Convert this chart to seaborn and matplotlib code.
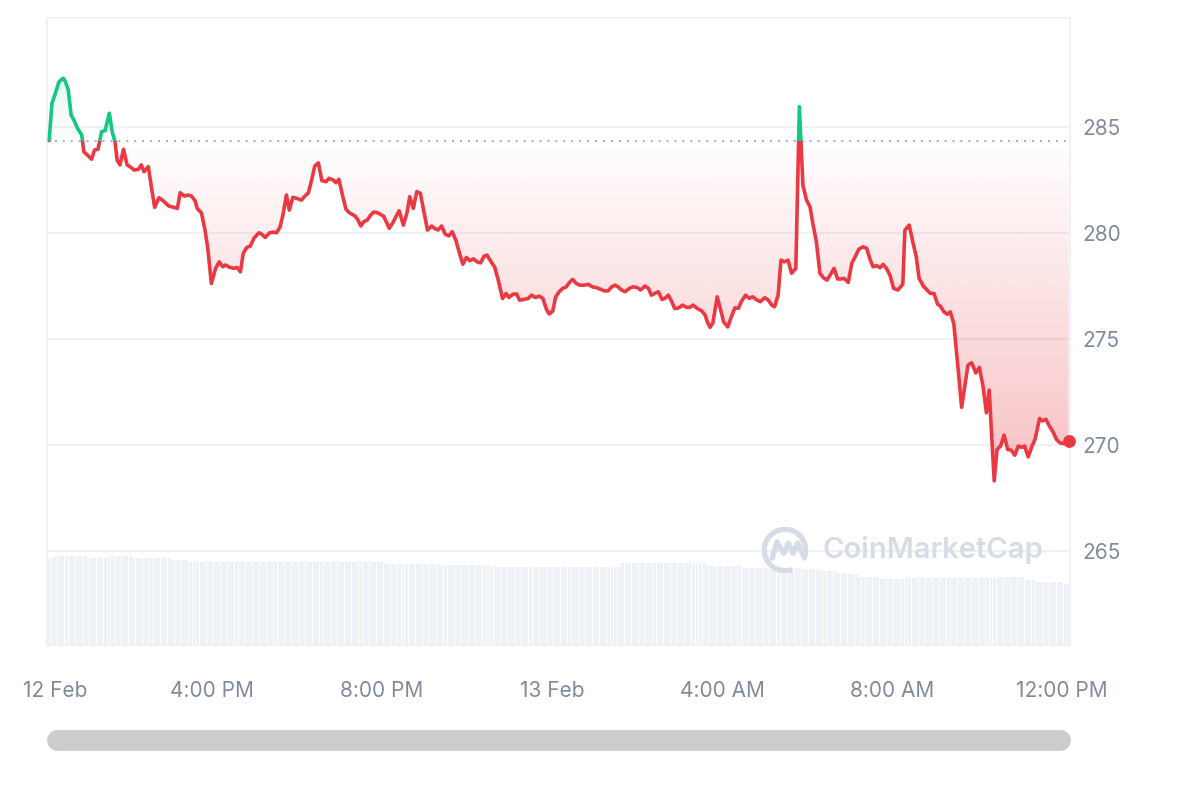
import matplotlib
matplotlib.use("Agg")
import matplotlib.pyplot as plt
from matplotlib.colors import to_rgb
from matplotlib.patches import PathPatch, Rectangle, Arc
from matplotlib.path import Path
from matplotlib.lines import Line2D
import numpy as np
import pandas as pd
import seaborn as sns

# minutes after 12:00 PM, 12 Feb
minutes = [10, 14, 18, 24, 30, 33, 37, 41, 45, 50, 56, 59, 64, 70, 74, 79, 84, 89, 95, 99,
           103, 106, 110, 115, 120, 124, 130, 136, 140, 144, 150, 155, 159, 165, 171, 179, 186, 191, 195, 201,
           206, 211, 216, 219, 225, 230, 234, 239,
           245, 250, 255, 259, 265, 271, 275, 280, 284, 289, 294, 299, 306, 310, 315, 321, 326, 331, 336, 340,
           345, 349, 354, 360, 366, 371, 376, 380, 385, 390, 395, 401, 405, 411, 415, 419, 424, 429, 434, 442,
           446, 450, 454, 459, 464, 468, 474, 479,
           482, 487, 490, 496, 500, 504, 510, 515, 519, 524, 529, 534, 539, 544, 550, 554, 559, 564, 569, 574,
           579, 584, 590, 594, 599, 604, 609, 614, 619, 624, 628, 633, 639, 644, 650, 655, 659, 665, 670, 674,
           680, 686, 691, 696, 702, 707, 712, 716,
           721, 725, 730, 735, 740, 744, 749, 754, 759, 765, 771, 777, 783, 788, 794, 799, 804, 809, 813, 818,
           823, 829, 834, 840, 845, 851, 856, 860, 865, 870, 875, 879, 884, 889, 893, 899, 904, 910, 914, 919,
           925, 931, 936, 939, 943, 947, 953, 958, 962, 968, 973, 978, 983, 987, 993, 998, 1003, 1009, 1014, 1020,
           1025, 1030, 1034, 1039, 1043, 1048, 1053, 1058, 1064, 1069, 1074, 1079, 1084, 1088, 1093, 1098, 1103, 1108, 1113, 1118,
           1123, 1127, 1132, 1138, 1143, 1147, 1153, 1159, 1164, 1169, 1173, 1178, 1183, 1187, 1192, 1197, 1202, 1208, 1215, 1218,
           1224, 1229, 1234, 1238, 1244, 1249, 1254, 1259, 1264, 1268, 1273, 1278, 1282, 1287, 1291, 1295, 1298, 1303, 1307, 1312,
           1315, 1318, 1323, 1328, 1333, 1337, 1340, 1344, 1348, 1353, 1358, 1363, 1368, 1373, 1378, 1383, 1387, 1392, 1397, 1402,
           1408, 1412, 1417, 1422, 1427, 1432, 1437, 1442, 1449]

price = [284.36, 286.12, 286.51, 287.14, 287.30, 287.14, 286.75, 285.57, 285.33, 284.94, 284.62, 283.83, 283.68, 283.48, 283.91, 283.95, 284.78, 284.83, 285.65, 284.78,
         284.31, 283.44, 283.21, 283.95, 283.21, 283.13, 282.97, 283.00, 283.21, 282.89, 283.13, 282.03, 281.21, 281.66, 281.52, 281.27, 281.21, 281.16, 281.90, 281.74,
         281.79, 281.74, 281.52, 281.16, 280.95, 280.14, 279.27, 277.62,
         278.33, 278.64, 278.41, 278.49, 278.38, 278.33, 278.38, 278.17, 279.04, 279.32, 279.38, 279.75, 280.01, 279.95, 279.79, 280.01, 280.04, 280.01, 280.29, 280.85,
         281.79, 281.08, 281.68, 281.63, 281.55, 281.74, 281.90, 282.42, 283.16, 283.31, 282.47, 282.42, 282.58, 282.50, 282.37, 282.53, 281.79, 281.12, 280.95, 280.80,
         280.61, 280.33, 280.53, 280.61, 280.85, 280.99, 280.95, 280.85,
         280.80, 280.45, 280.22, 280.53, 280.80, 281.05, 280.37, 280.93, 281.71, 281.16, 281.95, 281.87, 281.00, 280.14, 280.33, 280.22, 280.14, 280.33, 279.95, 279.86,
         280.06, 279.67, 278.96, 278.53, 278.85, 278.69, 278.78, 278.64, 278.59, 278.91, 278.96, 278.69, 278.38, 277.78, 276.91, 277.15, 276.96, 277.12, 277.12, 276.83,
         276.87, 276.91, 277.07, 276.96, 277.02, 276.91, 276.40, 276.18,
         276.33, 276.99, 277.23, 277.39, 277.46, 277.65, 277.81, 277.62, 277.54, 277.54, 277.58, 277.46, 277.42, 277.35, 277.27, 277.27, 277.46, 277.54, 277.46, 277.31,
         277.23, 277.39, 277.46, 277.43, 277.31, 277.50, 277.39, 277.07, 277.15, 277.23, 276.87, 276.91, 277.07, 276.75, 276.44, 276.47, 276.60, 276.49, 276.49, 276.60,
         276.44, 276.33, 276.13, 275.81, 275.55, 275.77, 276.99, 276.37, 275.81, 275.57, 276.05, 276.47, 276.45, 276.76, 277.07, 276.92, 276.99, 276.84, 276.76, 276.95,
         276.84, 276.60, 276.52, 277.07, 278.72, 278.64, 278.72, 278.10, 278.33, 285.96, 282.26, 281.56, 281.24, 280.45, 279.59, 278.10, 277.89, 277.78, 278.05, 278.33,
         277.83, 277.83, 277.86, 277.67, 278.57, 278.83, 279.24, 279.35, 279.28, 278.73, 278.41, 278.46, 278.36, 278.52, 278.33, 278.00, 277.39, 277.31, 277.59, 280.14,
         280.37, 279.59, 278.88, 277.86, 277.50, 277.31, 277.15, 277.15, 276.65, 276.55, 276.28, 276.17, 276.28, 275.73, 274.32, 272.90, 271.78, 272.90, 273.77, 273.88,
         273.66, 273.40, 273.66, 272.82, 271.52, 272.59, 270.70, 268.31, 269.79, 269.95, 270.47, 269.79, 269.76, 269.52, 269.95, 269.89, 269.95, 269.44, 269.91, 270.31,
         271.25, 271.14, 271.21, 270.89, 270.62, 270.26, 270.10, 270.07, 270.19]

open_price = 284.36

# 5-minute volume bars, read as runs of equal height
vol_level = [8.7, 8.9, 8.7, 8.9, 8.7, 8.5, 8.3, 8.1, 8.0, 7.8, 8.2, 7.9,
             7.7, 7.6, 7.4, 7.2, 7.1, 6.8, 6.6, 6.7, 6.8, 6.5, 6.3, 6.1]
vol_count = [2, 9, 6, 7, 11, 5, 55, 16, 14, 37, 24, 10,
             17, 5, 5, 3, 3, 6, 7, 27, 7, 3, 8, 2]

tick_min = [18, 240, 480, 720, 960, 1200, 1440]
tick_text = ["12 Feb", "4:00 PM", "8:00 PM", "13 Feb", "4:00 AM", "8:00 AM", "12:00 PM"]
price_ticks = [265, 270, 275, 280, 285]

RED = "#ea3943"
GREEN = "#16c784"
GRID = "#eff2f5"
LABEL = "#808a9d"
MARK = "#d6dce6"

sns.set_theme(style="white")
plt.rcParams["font.family"] = ["Inter", "DejaVu Sans"]

df = pd.DataFrame({"minute": minutes, "price": price})
x = np.array(minutes, dtype=float)
y = np.array(price)
vol = np.repeat(vol_level, vol_count)
vol_time = 9.5 + 5 * np.arange(len(vol))

xlim = (7, 1451)
ylim = (260.57, 290.14)

fig = plt.figure(figsize=(12, 8), dpi=100)
pos = [47 / 1200, 155 / 800, 1023 / 1200, 627 / 800]

# volume behind the price
axv = fig.add_axes(pos, zorder=0)
axv.bar(vol_time, vol, width=4.2, color="#eef1f5", linewidth=0)
axv.set_xlim(*xlim)
axv.set_ylim(0, 62.7)
axv.axis("off")

ax = fig.add_axes(pos, zorder=1)
ax.patch.set_alpha(0)


def shade(mask, color, y_far, a_far):
    coll = ax.fill_between(x, y, open_price, where=mask, interpolate=True,
                           color="none", linewidth=0)
    clip = PathPatch(Path.make_compound_path(*coll.get_paths()),
                     transform=ax.transData, facecolor="none", edgecolor="none")
    ax.add_patch(clip)
    rgba = np.zeros((256, 1, 4))
    rgba[..., :3] = to_rgb(color)
    if y_far < open_price:
        rgba[:, 0, 3] = np.linspace(a_far, 0, 256)
    else:
        rgba[:, 0, 3] = np.linspace(0, a_far, 256)
    lo, hi = sorted([open_price, y_far])
    im = ax.imshow(rgba, extent=[x[0], x[-1], lo, hi], origin="lower",
                   aspect="auto", zorder=1, interpolation="bilinear")
    im.set_clip_path(clip)


shade(y <= open_price, RED, 268.3, 0.32)
shade(y >= open_price, GREEN, 287.3, 0.12)

sns.lineplot(data=df, x="minute", y="price", color=RED, lw=2.6, ax=ax, zorder=3)
sns.lineplot(data=df, x="minute", y="price", color=GREEN, lw=2.6, ax=ax, zorder=3)
red_line, green_line = ax.lines[-2], ax.lines[-1]
red_line.set_clip_path(Rectangle((xlim[0], ylim[0]), xlim[1] - xlim[0], open_price - ylim[0],
                                 transform=ax.transData))
green_line.set_clip_path(Rectangle((xlim[0], open_price), xlim[1] - xlim[0], ylim[1] - open_price,
                                   transform=ax.transData))

ax.axhline(open_price, color="#9aa0a8", lw=1.3, ls=(0, (1, 3.4)), zorder=2)
ax.scatter(x[-1:], y[-1:], s=85, color=RED, zorder=4, linewidths=0, clip_on=False)

ax.set_xlim(*xlim)
ax.set_ylim(*ylim)
ax.set_xticks(tick_min, tick_text)
ax.set_yticks(price_ticks)
ax.yaxis.tick_right()
ax.yaxis.grid(True, color=GRID, lw=1.5)
ax.xaxis.grid(False)
ax.tick_params(axis="y", length=0, pad=9, labelcolor=LABEL, labelsize=15)
ax.tick_params(axis="x", length=0, pad=26, labelcolor=LABEL, labelsize=15)
ax.set_xlabel("")
ax.set_ylabel("")
for side in ["left", "right", "bottom", "top"]:
    ax.spines[side].set_color(GRID)
    ax.spines[side].set_linewidth(1.5)

# watermark
fig.text(822 / 1200, 1 - 550 / 800, "CoinMarketCap", ha="left", va="center",
         fontsize=21, fontweight="semibold", color=MARK, zorder=5)
logo = fig.add_axes([762 / 1200, 1 - 573 / 800, 46 / 1200, 46 / 800], zorder=5)
logo.set_xlim(-1, 1)
logo.set_ylim(-1, 1)
logo.axis("off")
logo.add_patch(Arc((0, 0), 1.8, 1.8, theta1=-20, theta2=290, lw=3.8, color=MARK))
logo.plot([-0.55, -0.35, -0.05, 0.15, 0.35, 0.55, 0.85],
          [-0.35, 0.35, -0.15, 0.3, -0.15, 0.3, -0.35],
          color=MARK, lw=3.8, solid_joinstyle="round", solid_capstyle="round")

# scrollbar
fig.add_artist(Line2D([57 / 1200, 1060 / 1200], [1 - 740 / 800, 1 - 740 / 800],
                      transform=fig.transFigure, lw=15, color="#cccccc",
                      solid_capstyle="round"))

fig.savefig("out.png", dpi=100, facecolor="white")
